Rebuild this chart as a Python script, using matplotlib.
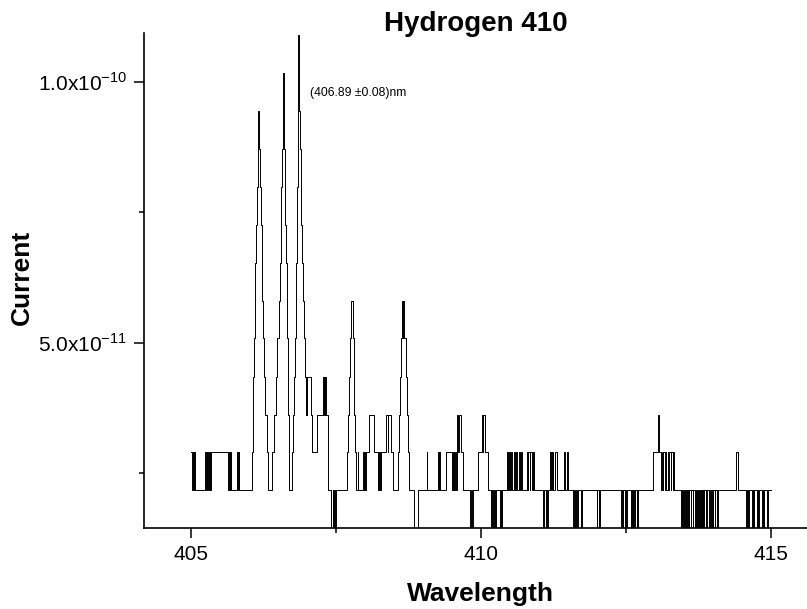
import matplotlib
matplotlib.use('Agg')
import matplotlib.pyplot as plt
import numpy as np

plt.rcParams['font.family'] = ['Liberation Sans', 'DejaVu Sans']

# current is given in units of 1e-11 A, wavelength in nm
# steps of the trace (value holds until the next wavelength)

# noise before the first line
wl_start = [405.000, 405.017, 405.031, 405.045, 405.059, 405.069, 405.241, 405.255,
            405.269, 405.283, 405.297, 405.310, 405.321, 405.334, 405.348, 405.638,
            405.652, 405.666, 405.679, 405.690, 405.793, 405.807, 405.821, 405.834]
cur_start = [2.90, 2.17, 2.90, 2.17, 2.90, 2.17, 2.90, 2.17,
             2.90, 2.17, 2.90, 2.17, 2.90, 2.17, 2.90, 2.17,
             2.90, 2.17, 2.90, 2.17, 2.90, 2.17, 2.90, 2.17]

# three strong lines
wl_triplet = [406.052, 406.064, 406.074, 406.086, 406.098, 406.110, 406.122, 406.134, 406.147, 406.159,
              406.178, 406.190, 406.202, 406.216, 406.229, 406.247, 406.264, 406.281, 406.302, 406.333,
              406.402, 406.431, 406.466, 406.491, 406.512, 406.529, 406.545, 406.559, 406.571, 406.581, 406.590,
              406.600, 406.609, 406.619, 406.629, 406.640, 406.650, 406.660, 406.669, 406.678, 406.686, 406.695,
              406.747, 406.764, 406.781, 406.793, 406.805, 406.814, 406.822, 406.831, 406.838, 406.843, 406.847,
              406.850, 406.859, 406.867, 406.878, 406.890, 406.902, 406.914, 406.926, 406.945, 406.966]
cur_triplet = [2.90, 3.62, 4.35, 5.08, 5.80, 6.53, 7.26, 7.99, 8.71, 9.44,
               8.71, 7.99, 7.26, 6.53, 5.80, 5.08, 4.35, 3.62, 2.90, 2.17,
               2.90, 3.62, 4.35, 5.08, 5.80, 6.53, 7.26, 7.99, 8.71, 9.44, 10.17,
               9.44, 8.71, 7.99, 7.26, 6.53, 5.80, 5.08, 4.35, 3.62, 2.90, 2.17,
               2.90, 3.62, 4.35, 5.08, 5.80, 6.53, 7.26, 7.99, 8.71, 9.44, 10.17,
               10.89, 10.17, 9.44, 8.71, 7.99, 7.26, 6.53, 5.80, 5.08, 4.35]

# shoulder after the triplet
wl_shoulder = [406.976, 406.986, 406.993, 407.003, 407.069, 407.091, 407.167, 407.281, 407.290, 407.298,
               407.307, 407.316, 407.324, 407.367, 407.422, 407.440, 407.448, 407.459, 407.479, 407.493]
cur_shoulder = [3.62, 4.35, 3.62, 4.35, 3.62, 2.90, 3.62, 4.35, 3.62, 4.35,
                3.62, 4.35, 3.62, 2.17, 1.44, 2.17, 1.44, 2.17, 1.44, 2.17]

# two weaker lines
wl_pair = [407.684, 407.702, 407.719, 407.734, 407.752, 407.788, 407.802, 407.816, 407.833, 407.853,
           407.871, 407.879, 407.971, 407.983, 407.993, 408.003, 408.014, 408.074, 408.155, 408.224,
           408.234, 408.245, 408.255, 408.269, 408.279, 408.362, 408.388, 408.397, 408.443, 408.483,
           408.574, 408.590, 408.603, 408.617, 408.638, 408.648, 408.655, 408.678, 408.702, 408.716,
           408.733, 408.764]
cur_pair = [2.90, 3.62, 4.35, 5.08, 5.80, 5.08, 4.35, 3.62, 2.90, 2.17,
            2.90, 2.17, 2.90, 2.17, 2.90, 2.17, 2.90, 3.62, 2.90, 2.17,
            2.90, 2.17, 2.90, 2.17, 2.90, 3.62, 2.90, 3.62, 2.90, 2.17,
            2.90, 3.62, 4.35, 5.08, 5.80, 5.08, 5.80, 5.08, 4.35, 3.62,
            2.90, 2.17]

# 409 - 411 nm
wl_mid = [408.850, 408.909, 409.064, 409.072, 409.264, 409.272, 409.281, 409.293, 409.397, 409.495,
          409.505, 409.517, 409.528, 409.540, 409.552, 409.569, 409.579, 409.591, 409.603, 409.612,
          409.650, 409.695, 409.810, 409.824, 409.853, 409.867, 409.953, 410.012, 410.026, 410.034,
          410.069, 410.126, 410.172, 410.190, 410.207, 410.219, 410.233, 410.253, 410.328, 410.336,
          410.357, 410.367, 410.443, 410.457, 410.469, 410.483, 410.493, 410.505, 410.517, 410.540,
          410.574, 410.586, 410.600, 410.616, 410.660, 410.672, 410.690, 410.712, 410.788, 410.802,
          410.814, 410.836, 410.853, 410.879, 410.893, 410.919]
cur_mid = [1.44, 2.17, 2.90, 2.17, 2.90, 2.17, 2.90, 2.17, 2.90, 2.17,
           2.90, 2.17, 2.90, 2.17, 2.90, 2.17, 2.90, 3.62, 2.90, 3.62,
           2.90, 2.17, 1.44, 2.17, 1.44, 2.17, 2.90, 3.62, 2.90, 3.62,
           2.90, 2.17, 1.44, 2.17, 1.44, 2.17, 1.44, 2.17, 1.44, 2.17,
           1.44, 2.17, 2.90, 2.17, 2.90, 2.17, 2.90, 2.17, 2.90, 2.17,
           2.90, 2.17, 2.90, 2.17, 2.90, 2.17, 2.90, 2.17, 2.90, 2.17,
           2.90, 2.17, 2.90, 2.17, 2.90, 2.17]

# 411 - 413 nm
wl_late = [411.074, 411.086, 411.112, 411.129, 411.143, 411.160, 411.190, 411.207, 411.221, 411.241,
           411.267, 411.305, 411.436, 411.448, 411.488, 411.505, 411.586, 411.598, 411.621, 411.634,
           411.660, 411.672, 411.719, 411.736, 411.995, 412.005, 412.040, 412.052, 412.414, 412.428,
           412.440, 412.453, 412.474, 412.483, 412.500, 412.512, 412.586, 412.598, 412.612, 412.624,
           412.643, 412.655, 412.681, 412.693, 412.703, 412.712, 412.971, 413.047, 413.069, 413.098,
           413.112, 413.129, 413.143, 413.172, 413.183, 413.195, 413.216, 413.228, 413.238, 413.267,
           413.279, 413.302, 413.316, 413.333]
cur_late = [1.44, 2.17, 1.44, 2.17, 1.44, 2.17, 2.90, 2.17, 2.90, 2.17,
            2.90, 2.17, 2.90, 2.17, 2.90, 2.17, 1.44, 2.17, 1.44, 2.17,
            1.44, 2.17, 1.44, 2.17, 1.44, 2.17, 1.44, 2.17, 1.44, 2.17,
            1.44, 2.17, 1.44, 2.17, 1.44, 2.17, 1.44, 2.17, 1.44, 2.17,
            1.44, 2.17, 1.44, 2.17, 1.44, 2.17, 2.90, 3.62, 2.90, 2.17,
            2.90, 2.17, 2.90, 2.17, 2.90, 2.17, 2.90, 2.17, 2.90, 2.17,
            2.90, 2.17, 2.90, 2.17]

# 413.4 - 415 nm
wl_end = [413.448, 413.459, 413.471, 413.483, 413.500, 413.510, 413.526, 413.538, 413.552, 413.564,
          413.579, 413.591, 413.612, 413.624, 413.647, 413.660, 413.690, 413.700, 413.724, 413.736,
          413.759, 413.769, 413.784, 413.797, 413.810, 413.821, 413.833, 413.845, 413.879, 413.891,
          413.936, 413.948, 413.966, 413.979, 413.991, 414.003, 414.026, 414.038, 414.060, 414.072,
          414.081, 414.091, 414.397, 414.436, 414.569, 414.581, 414.609, 414.621, 414.667, 414.681,
          414.698, 414.712, 414.753, 414.767, 414.781, 414.798, 414.840, 414.853, 414.867, 414.879,
          414.926, 414.940, 414.948, 414.953, 415.000]
cur_end = [1.44, 2.17, 1.44, 2.17, 1.44, 2.17, 1.44, 2.17, 1.44, 2.17,
           1.44, 2.17, 1.44, 2.17, 1.44, 2.17, 1.44, 2.17, 1.44, 2.17,
           1.44, 2.17, 1.44, 2.17, 1.44, 2.17, 1.44, 2.17, 1.44, 2.17,
           1.44, 2.17, 1.44, 2.17, 1.44, 2.17, 1.44, 2.17, 1.44, 2.17,
           1.44, 2.17, 2.90, 2.17, 1.44, 2.17, 1.44, 2.17, 1.44, 2.17,
           1.44, 2.17, 1.44, 2.17, 1.44, 2.17, 1.44, 2.17, 1.44, 2.17,
           1.44, 2.17, 1.44, 2.17, 2.17]

x_major = [405, 410, 415]
x_minor = [407.5, 412.5]
y_major = [5e-11, 1e-10]
y_labels = [r'5.0x10$^{\mathregular{-11}}$', r'1.0x10$^{\mathregular{-10}}$']
y_minor = [2.5e-11, 7.5e-11]
peak_text = '(406.89 \u00b10.08)nm'

wl = np.concatenate([wl_start, wl_triplet, wl_shoulder, wl_pair, wl_mid, wl_late, wl_end])
cur = np.concatenate([cur_start, cur_triplet, cur_shoulder, cur_pair, cur_mid, cur_late, cur_end]) * 1e-11

fig = plt.figure(figsize=(8.07, 6.09), dpi=100)
ax = fig.add_axes([144 / 807, 81 / 609, 1 - 144 / 807, 495 / 609])
ax.step(wl, cur, where='post', color='k', lw=0.7)

ax.set_xlim(404.19, 415.62)
ax.set_ylim(1.45e-11, 1.093e-10)
ax.set_xticks(x_major)
ax.set_xticks(x_minor, minor=True)
ax.set_yticks(y_major)
ax.set_yticklabels(y_labels)
ax.set_yticks(y_minor, minor=True)

for s in ['top', 'right']:
    ax.spines[s].set_visible(False)
for s in ['left', 'bottom']:
    ax.spines[s].set_linewidth(1.2)
ax.tick_params(which='major', direction='out', length=7, width=1.1, labelsize=15, pad=5)
ax.tick_params(which='minor', direction='out', length=3.6, width=1.1)

ax.text(407.06, 9.78e-11, peak_text, fontsize=8.7, va='center', ha='left')

fig.text(476 / 807, 1 - 24 / 609, 'Hydrogen 410', fontsize=20, fontweight='bold', ha='center', va='center')
fig.text(22 / 807, 1 - 277 / 609, 'Current', fontsize=19, fontweight='bold', rotation=90,
         ha='center', va='center')
fig.text(480 / 807, 1 - 594 / 609, 'Wavelength', fontsize=19, fontweight='bold', ha='center', va='center')

fig.savefig('out.png', dpi=100)
